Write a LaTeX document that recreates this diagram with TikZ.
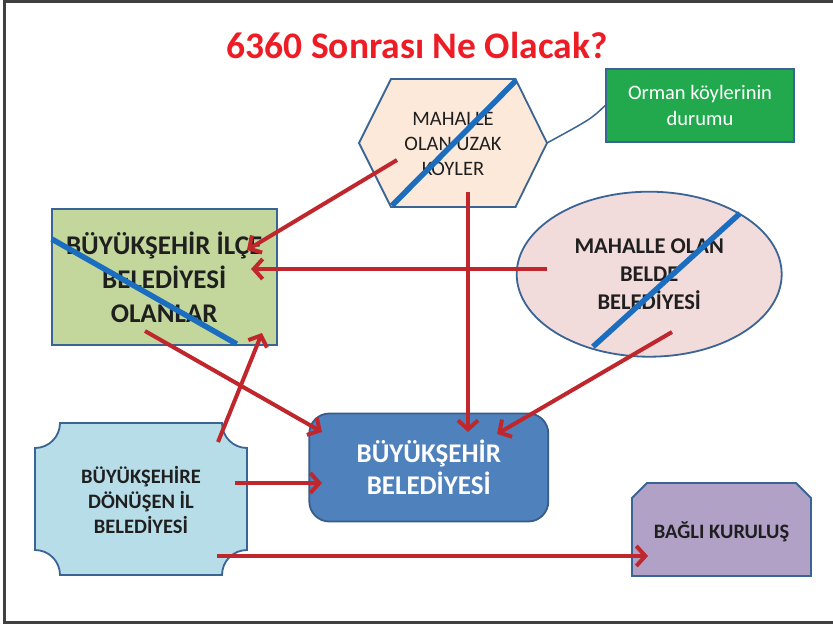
\documentclass[tikz,border=0pt]{standalone}
\usepackage{fontspec}
\setmainfont{Carlito}
\usetikzlibrary{arrows.meta,shapes.geometric,calc}
\definecolor{titlered}{HTML}{EE1C25}
\definecolor{arrred}{HTML}{C0272D}
\definecolor{strike}{HTML}{1A6DBF}
\definecolor{edge}{HTML}{3A6494}
\definecolor{hexfill}{HTML}{FDE9D9}
\definecolor{greenfill}{HTML}{23A94D}
\definecolor{olivefill}{HTML}{C3D69B}
\definecolor{pinkfill}{HTML}{F2DCDB}
\definecolor{cyanfill}{HTML}{B7DDE8}
\definecolor{bluefill}{HTML}{4F81BD}
\definecolor{bluedge}{HTML}{385D8A}
\definecolor{purplefill}{HTML}{B2A1C7}
\definecolor{darktext}{HTML}{1F1F1F}
\definecolor{framegray}{HTML}{404040}
\tikzset{
  shapeedge/.style={draw=edge, line width=1.8pt},
  redarrow/.style={draw=arrred, line width=4pt, -{Straight Barb[length=9pt,width=20pt]}},
  strikeline/.style={draw=strike, line width=5.5pt},
  boldtxt/.style 2 args={text=darktext, font=\bfseries\fontsize{#1}{#2}\selectfont, align=center},
}
\begin{document}
\begin{tikzpicture}[x=1pt,y=-1pt]
\useasboundingbox (0,0) rectangle (833,626);
\fill[white] (0,0) rectangle (833,626);
\draw[framegray, line width=3pt] (833,1.5) -- (4.5,1.5) -- (4.5,622.5) -- (833,622.5);

% title
\node[text=titlered, font=\bfseries\fontsize{37.5}{40}\selectfont] (title) at (417,45) {6360 Sonrası Ne Olacak?};

% hexagon
\draw[shapeedge, fill=hexfill] (359,143) -- (391,79) -- (515.5,79) -- (547,143) -- (515.5,207) -- (391,207) -- cycle;
\node[text=darktext, font=\fontsize{20.5}{25}\selectfont, align=center] (hex) at (453,144) {MAHALLE\\OLAN UZAK\\KÖYLER};
\coordinate (hexE) at (547,143);
\draw[strikeline] (392,205.5) -- (516,80.5);

% green box
\node[draw=edge, line width=1.5pt, fill=greenfill, minimum width=188pt, minimum height=73pt, inner sep=0pt,
      text=white, font=\fontsize{20.5}{26}\selectfont, align=center] (orman) at (700,105.5) {Orman köylerinin\\durumu};
\draw[draw=edge, line width=1.5pt] (hexE) .. controls (591,119) .. (orman.west);

% left rect
\node[shapeedge, fill=olivefill, minimum width=225pt, minimum height=136pt, inner sep=0pt,
      boldtxt={27}{34}] (ilce) at (164.2,277) {BÜYÜKŞEHİR İLÇE\\BELEDİYESİ\\OLANLAR};
\draw[strikeline] (51.7,239) -- (236.7,344);

% ellipse
\node[ellipse, shapeedge, fill=pinkfill, minimum width=265pt, minimum height=165pt, inner sep=0pt,
      boldtxt={22.5}{28}] (belde) at (649.2,274.2) {MAHALLE OLAN\\BELDE\\BELEDİYESİ};
\draw[strikeline] (593,346.7) -- (740,213.3);

% bottom-left plaque
\draw[shapeedge, fill=cyanfill] (60,423) -- (222,423) arc[start angle=180,end angle=270,radius=25pt]
  -- (247,550) arc[start angle=90,end angle=180,radius=25pt]
  -- (60,575) arc[start angle=0,end angle=90,radius=25pt]
  -- (35,448) arc[start angle=-90,end angle=0,radius=25pt] -- cycle;
\node[boldtxt={20.5}{25}] (ildon) at (141,500) {BÜYÜKŞEHİRE\\DÖNÜŞEN İL\\BELEDİYESİ};

% center
\node[draw=bluedge, line width=1.8pt, fill=bluefill, rounded corners=20pt, minimum width=239pt, minimum height=108pt,
      inner sep=0pt, text=white, font=\bfseries\fontsize{27}{32}\selectfont, align=center] (bsb) at (428.8,467.5) {BÜYÜKŞEHİR\\BELEDİYESİ};

% bottom-right snipped box
\draw[shapeedge, fill=purplefill] (632,498) -- (647,483) -- (796,483) -- (811,498) -- (811,576) -- (632,576) -- cycle;
\node[boldtxt={20.5}{25}] (bagli) at (721.5,532) {BAĞLI KURULUŞ};

% arrows
\coordinate (a1s) at (397,160);   \coordinate (a1e) at (247,250);
\coordinate (a2s) at (547,269);   \coordinate (a2e) at (251,269);
\coordinate (a3s) at (468,192);   \coordinate (a3e) at (468,432);
\coordinate (a4s) at (672,332);   \coordinate (a4e) at (497,434);
\coordinate (a5s) at (145,331);   \coordinate (a5e) at (322,432);
\coordinate (a6s) at (218,442);   \coordinate (a6e) at (262,333);
\coordinate (a7s) at (235,483);   \coordinate (a7e) at (322,483);
\coordinate (a8s) at (217,556);   \coordinate (a8e) at (648,556);
\draw[redarrow] (a1s) -- (a1e);
\draw[redarrow] (a2s) -- (a2e);
\draw[redarrow] (a3s) -- (a3e);
\draw[redarrow] (a4s) -- (a4e);
\draw[redarrow] (a5s) -- (a5e);
\draw[redarrow] (a6s) -- (a6e);
\draw[redarrow] (a7s) -- (a7e);
\draw[redarrow] (a8s) -- (a8e);
\end{tikzpicture}
\end{document}
